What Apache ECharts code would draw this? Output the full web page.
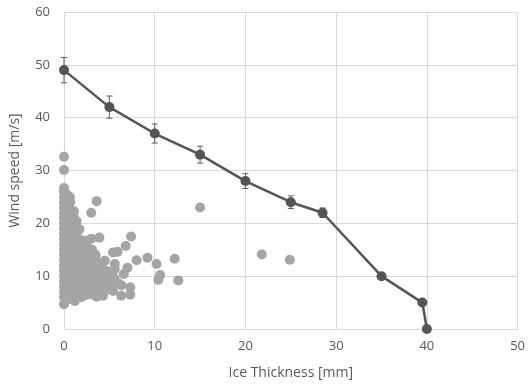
<!DOCTYPE html>
<html>
<head>
<meta charset="utf-8">
<script src="https://cdn.jsdelivr.net/npm/echarts@6/dist/echarts.min.js"></script>
<style>
  html, body { margin: 0; padding: 0; background: #fff; }
  #chart { width: 528px; height: 385px; }
</style>
</head>
<body>
<div id="chart"></div>
<script>
// design curve: ice thickness [mm] vs wind speed [m/s]
const curveIce = [0, 5, 10, 15, 20, 25, 28.5, 35, 39.5, 40];
const curveWind = [49, 42, 37, 33, 28, 24, 22, 10, 5, 0];
// error bar half-widths
const curveErr = [2.4, 2.1, 1.8, 1.6, 1.4, 1.2, 0.9, 0, 0, 0];

// observed points [ice, wind]
const observed = [
  [0, 4.7], [0, 6], [0, 7], [0, 8], [0, 9], [0, 10], [0, 11], [0, 12], [0, 13], [0, 14],
  [0, 15], [0, 16], [0, 17], [0, 18], [0, 19], [0, 20], [0, 21], [0, 22], [0, 23], [0, 24],
  [0, 25], [0, 26], [0, 26.7], [0, 30.1], [0, 32.6],
  [0.3, 5.5], [0.3, 7.5], [0.3, 9.5], [0.3, 11.5], [0.3, 13.5], [0.3, 15.5], [0.3, 17.5],
  [0.3, 19.5], [0.3, 21.5], [0.3, 23.5], [0.3, 25.5],
  [0.7, 6], [0.7, 8], [0.7, 10], [0.7, 12], [0.7, 14], [0.7, 16], [0.7, 18], [0.7, 20],
  [0.7, 22], [0.7, 24], [0.65, 25],
  [0.5, 7], [0.5, 9], [0.5, 11], [0.5, 13], [0.5, 15], [0.5, 17], [0.5, 19], [0.5, 21], [0.5, 23],
  [1.2, 5.3], [1.1, 7], [1.1, 9], [1.1, 11], [1.1, 13], [1.1, 15], [1.1, 17], [1.1, 19],
  [1.1, 21], [1.1, 22.3],
  [0.9, 6.2], [0.9, 8.2], [0.9, 10.2], [0.9, 12.2], [0.9, 14.2], [0.9, 16.2], [0.9, 18.2], [0.9, 20.2],
  [1.5, 6.5], [1.5, 8.5], [1.5, 10.5], [1.5, 12.5], [1.5, 14.5], [1.5, 16.5], [1.5, 18.5], [1.4, 20.4],
  [1.3, 7.6], [1.3, 9.6], [1.3, 11.6], [1.3, 13.6], [1.3, 15.6], [1.3, 17.6], [1.3, 19.6],
  [1.9, 6], [1.9, 8], [1.9, 10], [1.9, 12], [1.9, 14], [1.9, 16], [1.7, 18.9],
  [1.7, 7], [1.7, 9], [1.7, 11], [1.7, 13], [1.7, 15], [1.7, 17],
  [2.3, 6.5], [2.3, 9], [2.3, 11], [2.3, 13], [2.3, 15], [2.3, 16.7],
  [2.1, 7.8], [2.1, 10], [2.1, 12], [2.1, 14], [2.1, 15.8],
  [2.7, 7.5], [2.7, 10], [2.7, 12], [2.7, 14], [3.0, 17.1],
  [2.5, 8.7], [2.5, 11], [2.5, 13], [2.6, 15.5], [2.5, 6.5],
  [3.1, 6.6], [3.1, 9], [3.1, 11], [3.0, 13.8], [3.1, 15], [3.0, 22],
  [2.9, 8], [2.9, 10], [2.9, 12.5],
  [3.6, 6.1], [3.5, 8], [3.5, 10], [3.5, 12], [3.5, 14],
  [3.3, 7.2], [3.3, 9], [3.3, 11], [3.3, 13],
  [3.9, 7], [3.9, 9], [3.9, 11], [3.9, 12.5], [3.9, 17.3], [3.6, 24.2],
  [4.3, 6.3], [4.3, 8], [4.3, 10], [4.5, 12.9], [4.1, 11.8],
  [4.7, 7.5], [4.7, 9], [4.7, 11], [5.0, 9.8],
  [5.4, 7.2], [5.2, 8.5], [5.2, 10.4], [5.6, 12.3], [5.4, 14.5],
  [5.6, 9.5], [5.6, 11.3], [5.9, 8.8], [5.9, 14.6],
  [6.3, 6.3], [6.3, 8.3], [6.6, 10.4], [6.8, 15.7], [7.0, 11.6],
  [7.3, 6.5], [7.3, 7.9], [7.4, 17.5], [8.0, 13], [9.2, 13.5],
  [10.2, 12.3], [10.6, 10.2], [10.4, 9.3], [12.2, 13.3], [12.6, 9.2],
  [15, 23], [21.8, 14.1], [24.9, 13.1]
];

const xTicks = { min: 0, max: 50, step: 10 };
const yTicks = { min: 0, max: 60, step: 10 };

const curveData = curveIce.map((x, i) => [x, curveWind[i]]);
const errData = curveIce
  .map((x, i) => [x, curveWind[i] - curveErr[i], curveWind[i] + curveErr[i]])
  .filter((d, i) => curveErr[i] > 0);

const labelFont = '"Open Sans", "Noto Sans", sans-serif';
const textGray = '#595959';
const gridGray = '#D9D9D9';

const chart = echarts.init(document.getElementById('chart'));

chart.setOption({
  animation: false,
  backgroundColor: '#fff',
  grid: { left: 61, right: 8, top: 12, bottom: 55, containLabel: false },
  xAxis: {
    type: 'value',
    min: xTicks.min,
    max: xTicks.max,
    interval: xTicks.step,
    name: 'Ice Thickness [mm]',
    nameLocation: 'middle',
    nameGap: 37,
    nameTextStyle: { color: textGray, fontSize: 14, fontFamily: labelFont },
    axisLine: { show: true, lineStyle: { color: gridGray, width: 1 } },
    axisTick: { show: false },
    axisLabel: { color: textGray, fontSize: 13, fontFamily: labelFont, margin: 11 },
    splitLine: { show: true, lineStyle: { color: gridGray, width: 1 } }
  },
  yAxis: {
    type: 'value',
    min: yTicks.min,
    max: yTicks.max,
    interval: yTicks.step,
    name: 'Wind speed [m/s]',
    nameLocation: 'middle',
    nameGap: 42,
    nameTextStyle: { color: textGray, fontSize: 14, fontFamily: labelFont },
    axisLine: { show: false },
    axisTick: { show: false },
    axisLabel: { color: textGray, fontSize: 13, fontFamily: labelFont, margin: 14 },
    splitLine: { show: true, lineStyle: { color: gridGray, width: 1 } }
  },
  series: [
    {
      name: 'observed',
      type: 'scatter',
      data: observed,
      symbolSize: 10,
      itemStyle: { color: '#A5A5A5', opacity: 1 },
      z: 2
    },
    {
      name: 'error',
      type: 'custom',
      data: errData,
      z: 3,
      renderItem: (params, api) => {
        const x = api.value(0);
        const lo = api.coord([x, api.value(1)]);
        const hi = api.coord([x, api.value(2)]);
        const cap = 3;
        const style = { stroke: '#595959', lineWidth: 1 };
        return {
          type: 'group',
          children: [
            { type: 'line', shape: { x1: lo[0], y1: lo[1], x2: hi[0], y2: hi[1] }, style },
            { type: 'line', shape: { x1: lo[0] - cap, y1: lo[1], x2: lo[0] + cap, y2: lo[1] }, style },
            { type: 'line', shape: { x1: hi[0] - cap, y1: hi[1], x2: hi[0] + cap, y2: hi[1] }, style }
          ]
        };
      }
    },
    {
      name: 'curve',
      type: 'line',
      data: curveData,
      symbol: 'circle',
      symbolSize: 10,
      showAllSymbol: true,
      lineStyle: { color: '#555555', width: 2.5 },
      itemStyle: { color: '#555555' },
      z: 4
    }
  ]
});
</script>
</body>
</html>
